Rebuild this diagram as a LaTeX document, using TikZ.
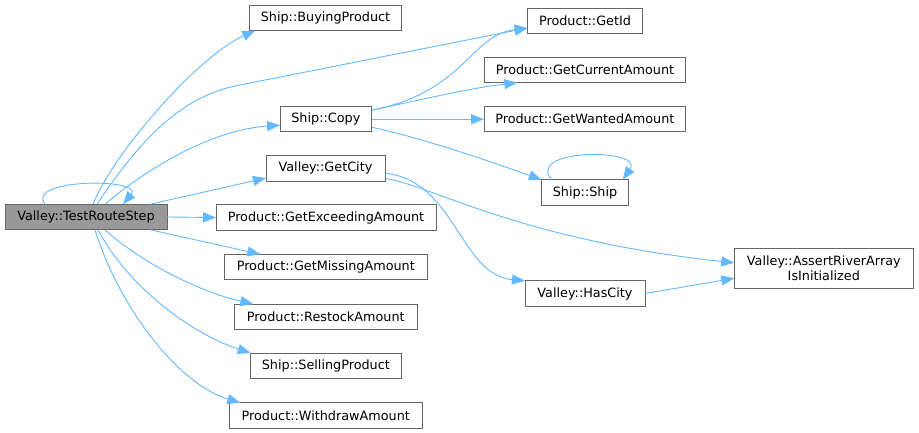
\documentclass[tikz,border=0pt]{standalone}
\usepackage{fontspec}
\setmainfont{DejaVu Sans}
\usetikzlibrary{arrows.meta,calc}
\definecolor{edgec}{HTML}{63B8FF}
\definecolor{bordc}{HTML}{666666}
\definecolor{trsfill}{HTML}{999999}
\tikzset{
  box/.style={draw=bordc, line width=1pt, fill=white, inner sep=0pt, outer sep=0pt,
    minimum height=25.5pt, font=\fontsize{12.8}{14.5}\selectfont, align=center},
  edge/.style={draw=edgec, line width=0.9pt, -{Triangle[length=13pt,width=10pt]}},
}
\begin{document}
\begin{tikzpicture}[x=1pt,y=-1pt]
\useasboundingbox (0,0) rectangle (919,433);
% nodes
\node[box, fill=trsfill, minimum width=162pt] (trs) at (86,217) {Valley::TestRouteStep};
\node[box, minimum width=152.4pt] (buy) at (325.5,17.9) {Ship::BuyingProduct};
\node[box, minimum width=114.6pt] (gid) at (585,21) {Product::GetId};
\node[box, minimum width=201.4pt] (cur) at (585,70) {Product::GetCurrentAmount};
\node[box, minimum width=91.7pt] (copy) at (325.85,119.2) {Ship::Copy};
\node[box, minimum width=201.7pt] (want) at (584.85,119.2) {Product::GetWantedAmount};
\node[box, minimum width=119pt] (city) at (325.5,168.3) {Valley::GetCity};
\node[box, minimum width=86.6pt] (ship) at (585,192.5) {Ship::Ship};
\node[box, minimum width=220pt] (exc) at (326,217.5) {Product::GetExceedingAmount};
\node[box, minimum width=179pt, minimum height=40pt] (asrt) at (823.8,268.3) {Valley::AssertRiverArray\\IsInitialized};
\node[box, minimum width=120pt] (has) at (585,293.5) {Valley::HasCity};
\node[box, minimum width=203pt] (mis) at (325.8,267) {Product::GetMissingAmount};
\node[box, minimum width=183pt] (rest) at (325.8,316.8) {Product::RestockAmount};
\node[box, minimum width=150.3pt] (sell) at (325.85,365.8) {Ship::SellingProduct};
\node[box, minimum width=193pt] (wd) at (325.8,415.5) {Product::WithdrawAmount};
% edges from TestRouteStep
\draw[edge] ($(trs.north)+(7,0)$) .. controls (115,150) and (200,55) .. ($(buy.south west)+(6,0)$);
\draw[edge] ($(trs.north)+(11,0)$) .. controls (140,140) and (180,98) .. (235,86) -- ($(gid.west)+(0,7)$);
\draw[edge] ($(trs.north)+(19,0)$) .. controls (145,170) and (210,130) .. ($(copy.west)+(0,6)$);
\draw[edge] ($(trs.north)+(-41,0)$) .. controls (25,178) and (145,178) .. ($(trs.north)+(37,0)$);
\draw[edge] ($(trs.north)+(64,0)$) -- ($(city.south west)+(0,-3)$);
\draw[edge] (trs.east) -- (exc.west);
\draw[edge] ($(trs.south)+(64,0)$) -- ($(mis.north west)+(36,0)$);
\draw[edge] ($(trs.south)+(19,0)$) .. controls (140,262) and (200,292) .. ($(rest.north west)+(19,0)$);
\draw[edge] ($(trs.south)+(12,0)$) .. controls (130,290) and (195,335) .. (sell.north west);
\draw[edge] ($(trs.south)+(9,0)$) .. controls (120,310) and (180,385) .. ($(wd.north west)+(11,0)$);
% edges from Ship::Copy
\draw[edge] ($(copy.east)+(0,-9)$) .. controls (465,92) and (470,35) .. ($(gid.west)+(0,7)$);
\draw[edge] ($(copy.east)+(0,-9)$) .. controls (420,100) and (470,88) .. ($(cur.south west)+(33,0)$);
\draw[edge] (copy.east) -- (want.west);
\draw[edge] ($(copy.east)+(0,8)$) .. controls (430,140) and (500,165) .. (ship.north west);
\draw[edge] ($(ship.north west)+(10,0)$) .. controls (525,148) and (645,148) .. ($(ship.north west)+(81,0)$);
% edges from Valley::GetCity
\draw[edge] ($(city.east)+(0,5)$) .. controls (455,180) and (460,275) .. (has.north west);
\draw[edge] ($(city.east)+(0,10)$) .. controls (430,185) and (520,240) .. ($(asrt.west)+(0,-5.5)$);
\draw[edge] (has.east) -- ($(asrt.west)+(0,10)$);
\end{tikzpicture}
\end{document}
